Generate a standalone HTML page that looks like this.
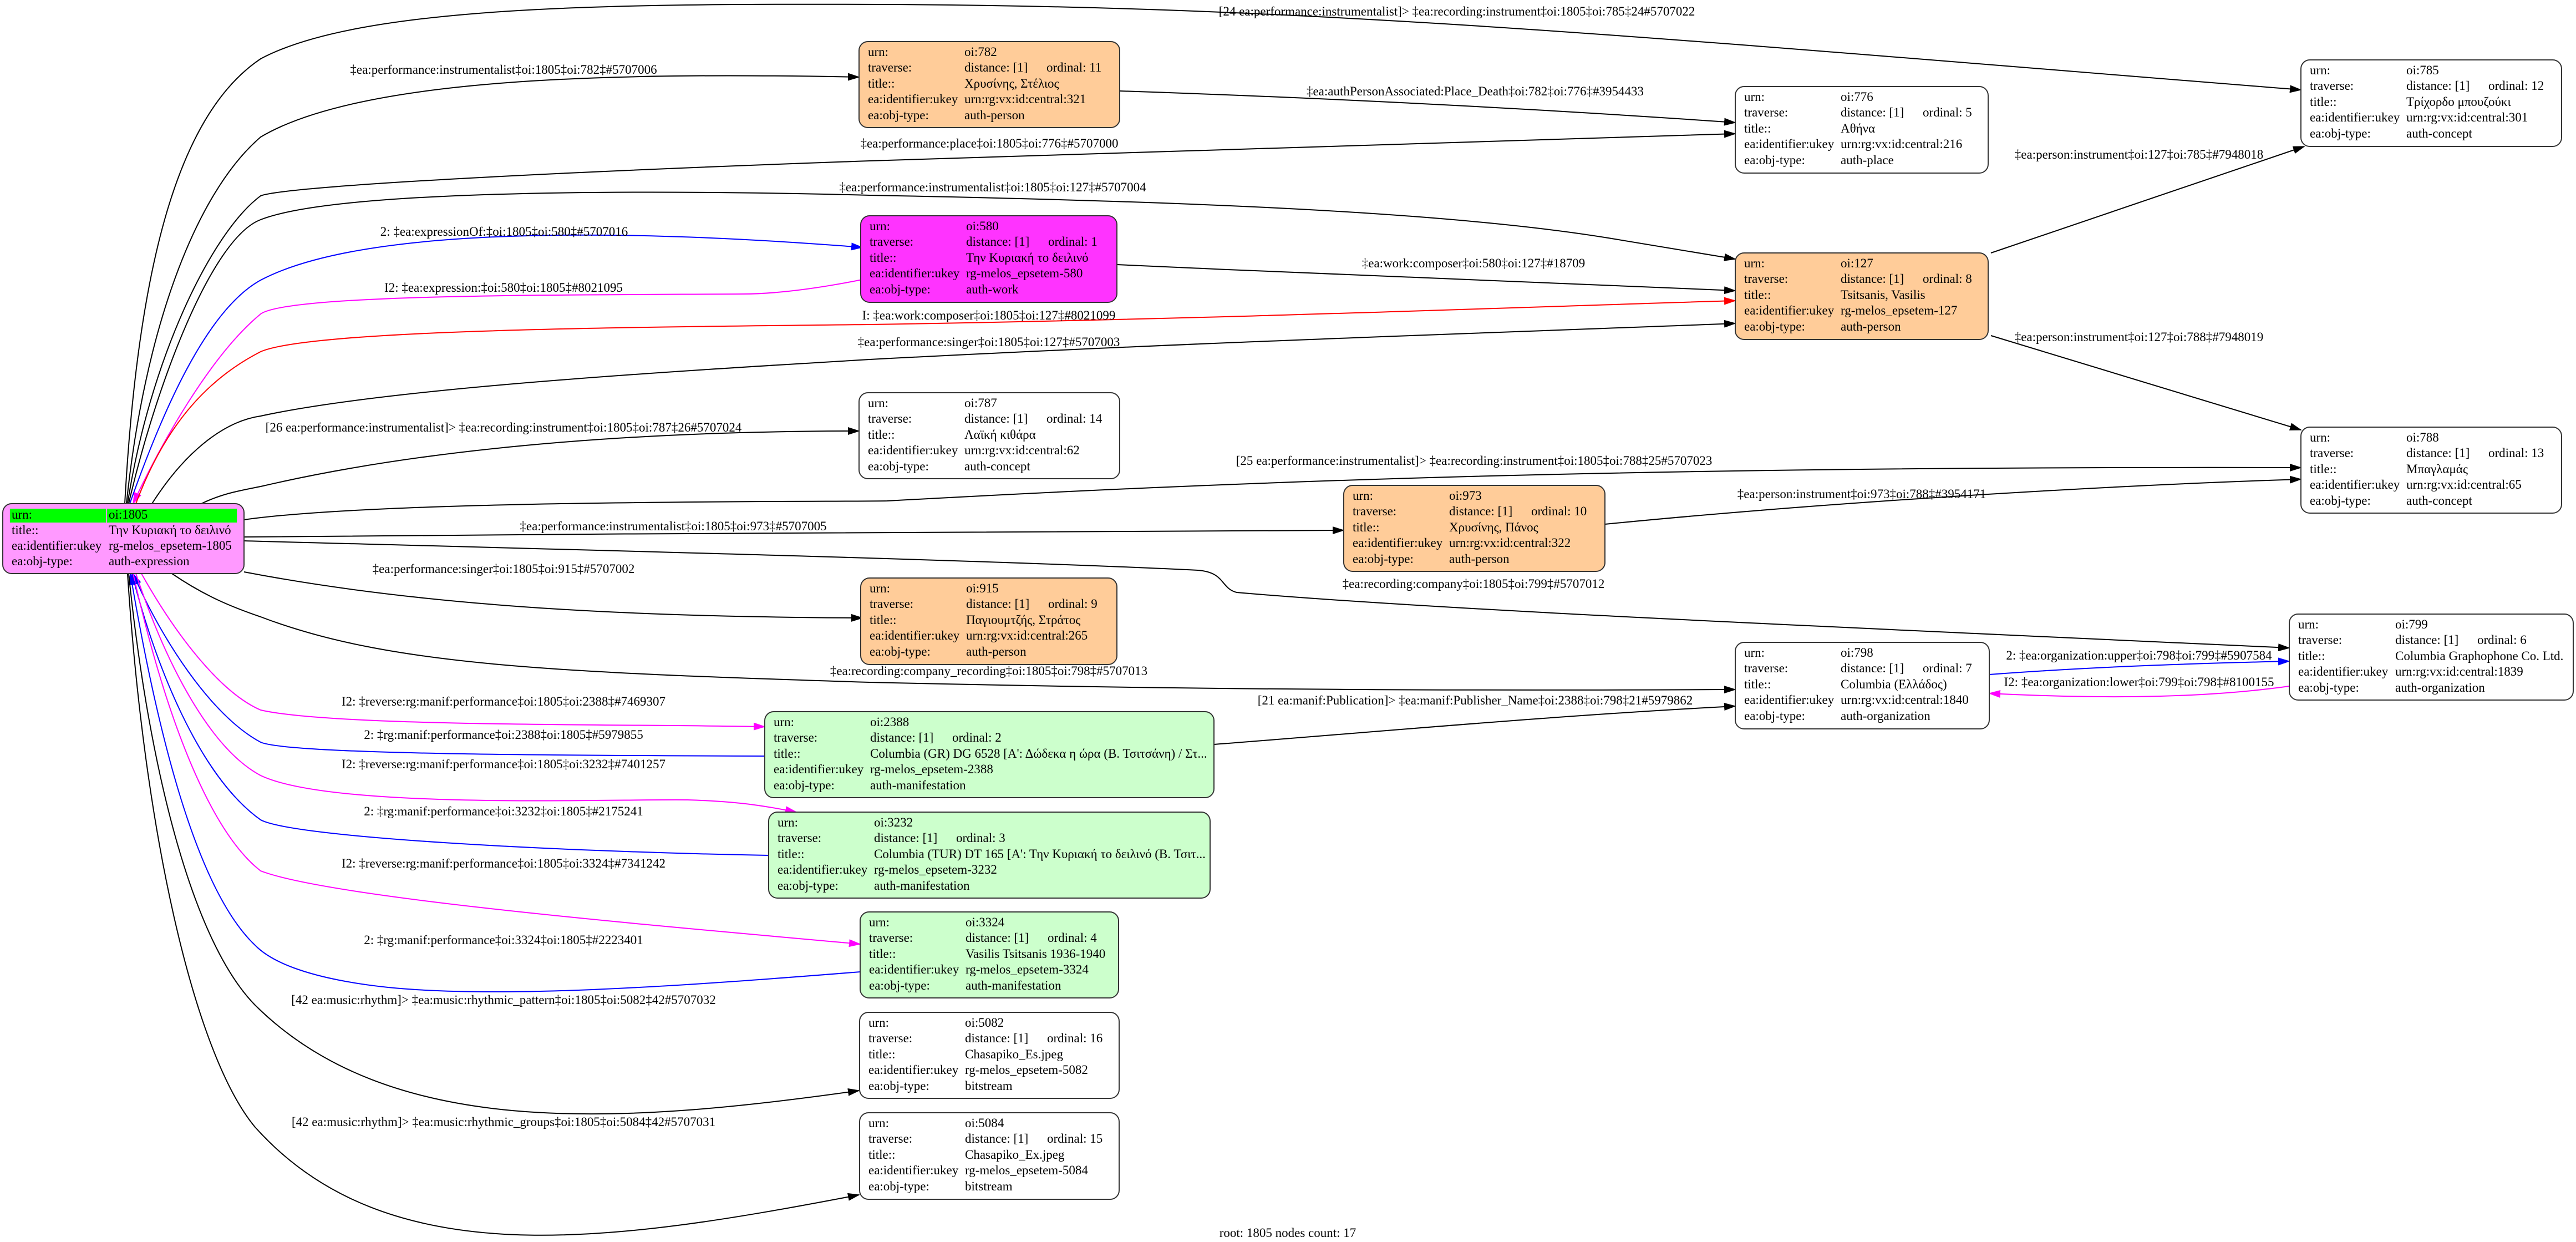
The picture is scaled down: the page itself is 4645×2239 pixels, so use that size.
<!DOCTYPE html>
<html><head><meta charset="utf-8"><style>
html,body{margin:0;padding:0;background:#fff;}
svg{display:block;}
text{font-family:"Liberation Serif","Noto Serif CJK SC",serif;font-size:23px;fill:#000;}
.e{fill:none;stroke-width:2;}
</style></head><body>
<svg width="4645" height="2239" viewBox="0 0 4645 2239" xmlns="http://www.w3.org/2000/svg">
<defs>
<marker id="ak" markerWidth="22" markerHeight="14" refX="20" refY="7" orient="auto" markerUnits="userSpaceOnUse"><path d="M0,0 L22,7 L0,14 z" fill="#000"/></marker>
<marker id="ab" markerWidth="22" markerHeight="14" refX="20" refY="7" orient="auto" markerUnits="userSpaceOnUse"><path d="M0,0 L22,7 L0,14 z" fill="#00f"/></marker>
<marker id="am" markerWidth="22" markerHeight="14" refX="20" refY="7" orient="auto" markerUnits="userSpaceOnUse"><path d="M0,0 L22,7 L0,14 z" fill="#f0f"/></marker>
<marker id="ar" markerWidth="22" markerHeight="14" refX="20" refY="7" orient="auto" markerUnits="userSpaceOnUse"><path d="M0,0 L22,7 L0,14 z" fill="#f00"/></marker>
</defs>

<g class="edges">
<path class="e" stroke="#000" marker-end="url(#ak)" d="M225,908 C250,450 330,200 470,106 C650,10 1100,6 1600,8 C2400,12 3000,70 4149,162"/>
<path class="e" stroke="#000" marker-end="url(#ak)" d="M228,908 C260,600 350,350 470,247 C650,140 1100,130 1549,139"/>
<path class="e" stroke="#000" marker-end="url(#ak)" d="M230,908 C270,650 380,420 470,353 C520,335 1000,310 1568,290 C2200,270 2800,250 3129,241"/>
<path class="e" stroke="#000" marker-end="url(#ak)" d="M232,908 C280,700 380,430 470,396 C600,345 1100,340 1568,352 C2100,362 2600,380 2900,429 L3129,467"/>
<path class="e" stroke="#00f" marker-end="url(#ab)" d="M234,908 C290,750 370,560 470,505 C650,410 1100,410 1555,446"/>
<path class="e" stroke="#f0f" marker-end="url(#am)" d="M1555,504 C1450,525 1380,530 1340,530 C1000,532 520,530 470,566 C380,640 290,800 240,908"/>
<path class="e" stroke="#f00" marker-end="url(#ar)" d="M245,908 C300,760 380,680 470,634 C560,595 1100,590 1568,585 C2200,575 2700,555 3129,542"/>
<path class="e" stroke="#000" marker-end="url(#ak)" d="M274,908 C330,820 400,760 470,750 C700,700 1200,670 1568,648 C2200,615 2700,600 3129,583"/>
<path class="e" stroke="#000" marker-end="url(#ak)" d="M363,908 C400,890 430,885 470,877 C800,800 1200,777 1549,777"/>
<path class="e" stroke="#000" marker-end="url(#ak)" d="M440,937 C700,900 1500,905 1600,903 C2200,870 2900,840 4149,843"/>
<path class="e" stroke="#000" marker-end="url(#ak)" d="M440,968 C1100,962 1800,958 2423,956"/>
<path class="e" stroke="#000" marker-end="url(#ak)" d="M440,975 C1000,990 1800,1010 2160,1028 C2210,1032 2200,1060 2230,1068 C2600,1100 3300,1130 4128,1168"/>
<path class="e" stroke="#000" marker-end="url(#ak)" d="M440,1031 C800,1100 1200,1112 1555,1114"/>
<path class="e" stroke="#000" marker-end="url(#ak)" d="M310,1034 C370,1075 420,1095 470,1112 C700,1200 1000,1212 1568,1230 C2200,1245 2700,1245 3129,1243"/>
<path class="e" stroke="#000" marker-end="url(#ak)" d="M2189,1342 C2500,1318 2800,1290 3129,1273"/>
<path class="e" stroke="#000" marker-end="url(#ak)" d="M2019,164 C2500,180 2900,205 3129,221"/>
<path class="e" stroke="#000" marker-end="url(#ak)" d="M2014,477 C2400,495 2800,510 3129,524"/>
<path class="e" stroke="#000" marker-end="url(#ak)" d="M3590,456 L4155,264"/>
<path class="e" stroke="#000" marker-end="url(#ak)" d="M3590,605 L4149,775"/>
<path class="e" stroke="#000" marker-end="url(#ak)" d="M2894,945 C3300,905 3800,875 4149,864"/>
<path class="e" stroke="#00f" marker-end="url(#ab)" d="M3587,1216 C3800,1200 4000,1195 4128,1192"/>
<path class="e" stroke="#f0f" marker-end="url(#am)" d="M4128,1237 C3950,1262 3750,1258 3587,1250"/>
<path class="e" stroke="#f0f" marker-end="url(#am)" d="M255,1034 C320,1150 400,1250 470,1280 C600,1310 1100,1305 1379,1310"/>
<path class="e" stroke="#00f" marker-end="url(#ab)" d="M1379,1363 C1000,1362 520,1360 470,1338 C380,1290 290,1150 240,1034"/>
<path class="e" stroke="#f0f" marker-end="url(#am)" d="M245,1034 C300,1200 380,1350 470,1398 C600,1460 1100,1440 1240,1442 C1340,1445 1390,1455 1436,1464"/>
<path class="e" stroke="#00f" marker-end="url(#ab)" d="M1386,1542 C1000,1535 530,1510 470,1478 C360,1400 280,1200 238,1034"/>
<path class="e" stroke="#f0f" marker-end="url(#am)" d="M240,1034 C300,1300 380,1500 470,1570 C600,1620 1200,1670 1551,1702"/>
<path class="e" stroke="#00f" marker-end="url(#ab)" d="M1551,1752 C1200,1780 900,1800 700,1780 C560,1765 490,1735 460,1704 C350,1600 280,1300 235,1034"/>
<path class="e" stroke="#000" marker-end="url(#ak)" d="M232,1034 C270,1400 350,1700 460,1812 C700,2050 1100,2030 1549,1966"/>
<path class="e" stroke="#000" marker-end="url(#ak)" d="M230,1034 C260,1500 350,1900 460,2032 C700,2300 1100,2240 1549,2154"/>
</g>

<g text-anchor="middle">
<text x="2627" y="28">[24 ea:performance:instrumentalist]&gt; ‡ea:recording:instrument‡oi:1805‡oi:785‡24#5707022</text>
<text x="908" y="133">‡ea:performance:instrumentalist‡oi:1805‡oi:782‡#5707006</text>
<text x="2660" y="172">‡ea:authPersonAssociated:Place_Death‡oi:782‡oi:776‡#3954433</text>
<text x="1784" y="266">‡ea:performance:place‡oi:1805‡oi:776‡#5707000</text>
<text x="1790" y="345">‡ea:performance:instrumentalist‡oi:1805‡oi:127‡#5707004</text>
<text x="909" y="425">2: ‡ea:expressionOf:‡oi:1805‡oi:580‡#5707016</text>
<text x="2657" y="482">‡ea:work:composer‡oi:580‡oi:127‡#18709</text>
<text x="908" y="526">I2: ‡ea:expression:‡oi:580‡oi:1805‡#8021095</text>
<text x="1783" y="576">I: ‡ea:work:composer‡oi:1805‡oi:127‡#8021099</text>
<text x="1783" y="624">‡ea:performance:singer‡oi:1805‡oi:127‡#5707003</text>
<text x="3857" y="286">‡ea:person:instrument‡oi:127‡oi:785‡#7948018</text>
<text x="3857" y="615">‡ea:person:instrument‡oi:127‡oi:788‡#7948019</text>
<text x="908" y="778">[26 ea:performance:instrumentalist]&gt; ‡ea:recording:instrument‡oi:1805‡oi:787‡26#5707024</text>
<text x="2658" y="838">[25 ea:performance:instrumentalist]&gt; ‡ea:recording:instrument‡oi:1805‡oi:788‡25#5707023</text>
<text x="3357" y="898">‡ea:person:instrument‡oi:973‡oi:788‡#3954171</text>
<text x="1214" y="956">‡ea:performance:instrumentalist‡oi:1805‡oi:973‡#5707005</text>
<text x="908" y="1033">‡ea:performance:singer‡oi:1805‡oi:915‡#5707002</text>
<text x="2657" y="1060">‡ea:recording:company‡oi:1805‡oi:799‡#5707012</text>
<text x="1783" y="1217">‡ea:recording:company_recording‡oi:1805‡oi:798‡#5707013</text>
<text x="2660" y="1270">[21 ea:manif:Publication]&gt; ‡ea:manif:Publisher_Name‡oi:2388‡oi:798‡21#5979862</text>
<text x="3857" y="1189">2: ‡ea:organization:upper‡oi:798‡oi:799‡#5907584</text>
<text x="3857" y="1237">I2: ‡ea:organization:lower‡oi:799‡oi:798‡#8100155</text>
<text x="908" y="1272">I2: ‡reverse:rg:manif:performance‡oi:1805‡oi:2388‡#7469307</text>
<text x="908" y="1332">2: ‡rg:manif:performance‡oi:2388‡oi:1805‡#5979855</text>
<text x="908" y="1385">I2: ‡reverse:rg:manif:performance‡oi:1805‡oi:3232‡#7401257</text>
<text x="908" y="1470">2: ‡rg:manif:performance‡oi:3232‡oi:1805‡#2175241</text>
<text x="908" y="1564">I2: ‡reverse:rg:manif:performance‡oi:1805‡oi:3324‡#7341242</text>
<text x="908" y="1702">2: ‡rg:manif:performance‡oi:3324‡oi:1805‡#2223401</text>
<text x="908" y="1810">[42 ea:music:rhythm]&gt; ‡ea:music:rhythmic_pattern‡oi:1805‡oi:5082‡42#5707032</text>
<text x="908" y="2030">[42 ea:music:rhythm]&gt; ‡ea:music:rhythmic_groups‡oi:1805‡oi:5084‡42#5707031</text>
<text x="2322" y="2230">root: 1805 nodes count: 17</text>
</g>

<g transform="translate(5,908)">
<rect x="0" y="0" width="435" height="126" rx="16" fill="#ff99ff" stroke="#333" stroke-width="2"/>
<rect x="13" y="9" width="173" height="25" fill="#00ff00"/>
<rect x="188" y="9" width="234" height="25" fill="#00ff00"/>
<text x="16" y="27">urn:</text><text x="191" y="27">oi:1805</text>
<text x="16" y="55">title::</text><text x="191" y="55">Την Κυριακή το δειλινό</text>
<text x="16" y="83">ea:identifier:ukey</text><text x="191" y="83">rg-melos_epsetem-1805</text>
<text x="16" y="111">ea:obj-type:</text><text x="191" y="111">auth-expression</text>
</g>

<g transform="translate(1549,75)">
<rect width="470" height="155" rx="16" fill="#ffcc99" stroke="#333" stroke-width="2"/>
<text x="16" y="26">urn:</text><text x="190" y="26">oi:782</text>
<text x="16" y="54">traverse:</text><text x="190" y="54">distance: [1]</text><text x="338" y="54">ordinal: 11</text>
<text x="16" y="83">title::</text><text x="190" y="83">Χρυσίνης, Στέλιος</text>
<text x="16" y="111">ea:identifier:ukey</text><text x="190" y="111">urn:rg:vx:id:central:321</text>
<text x="16" y="140">ea:obj-type:</text><text x="190" y="140">auth-person</text>
</g>
<g transform="translate(3129,156)">
<rect width="456" height="156" rx="16" fill="#fff" stroke="#333" stroke-width="2"/>
<text x="16" y="26">urn:</text><text x="190" y="26">oi:776</text>
<text x="16" y="54">traverse:</text><text x="190" y="54">distance: [1]</text><text x="338" y="54">ordinal: 5</text>
<text x="16" y="83">title::</text><text x="190" y="83">Αθήνα</text>
<text x="16" y="111">ea:identifier:ukey</text><text x="190" y="111">urn:rg:vx:id:central:216</text>
<text x="16" y="140">ea:obj-type:</text><text x="190" y="140">auth-place</text>
</g>
<g transform="translate(4149,108)">
<rect width="470" height="156" rx="16" fill="#fff" stroke="#333" stroke-width="2"/>
<text x="16" y="26">urn:</text><text x="190" y="26">oi:785</text>
<text x="16" y="54">traverse:</text><text x="190" y="54">distance: [1]</text><text x="338" y="54">ordinal: 12</text>
<text x="16" y="83">title::</text><text x="190" y="83">Τρίχορδο μπουζούκι</text>
<text x="16" y="111">ea:identifier:ukey</text><text x="190" y="111">urn:rg:vx:id:central:301</text>
<text x="16" y="140">ea:obj-type:</text><text x="190" y="140">auth-concept</text>
</g>
<g transform="translate(1552,389)">
<rect width="462" height="156" rx="16" fill="#ff33ff" stroke="#333" stroke-width="2"/>
<text x="16" y="26">urn:</text><text x="190" y="26">oi:580</text>
<text x="16" y="54">traverse:</text><text x="190" y="54">distance: [1]</text><text x="338" y="54">ordinal: 1</text>
<text x="16" y="83">title::</text><text x="190" y="83">Την Κυριακή το δειλινό</text>
<text x="16" y="111">ea:identifier:ukey</text><text x="190" y="111">rg-melos_epsetem-580</text>
<text x="16" y="140">ea:obj-type:</text><text x="190" y="140">auth-work</text>
</g>
<g transform="translate(3129,456)">
<rect width="456" height="156" rx="16" fill="#ffcc99" stroke="#333" stroke-width="2"/>
<text x="16" y="26">urn:</text><text x="190" y="26">oi:127</text>
<text x="16" y="54">traverse:</text><text x="190" y="54">distance: [1]</text><text x="338" y="54">ordinal: 8</text>
<text x="16" y="83">title::</text><text x="190" y="83">Tsitsanis, Vasilis</text>
<text x="16" y="111">ea:identifier:ukey</text><text x="190" y="111">rg-melos_epsetem-127</text>
<text x="16" y="140">ea:obj-type:</text><text x="190" y="140">auth-person</text>
</g>
<g transform="translate(1549,708)">
<rect width="470" height="155" rx="16" fill="#fff" stroke="#333" stroke-width="2"/>
<text x="16" y="26">urn:</text><text x="190" y="26">oi:787</text>
<text x="16" y="54">traverse:</text><text x="190" y="54">distance: [1]</text><text x="338" y="54">ordinal: 14</text>
<text x="16" y="83">title::</text><text x="190" y="83">Λαϊκή κιθάρα</text>
<text x="16" y="111">ea:identifier:ukey</text><text x="190" y="111">urn:rg:vx:id:central:62</text>
<text x="16" y="140">ea:obj-type:</text><text x="190" y="140">auth-concept</text>
</g>
<g transform="translate(4149,770)">
<rect width="470" height="155" rx="16" fill="#fff" stroke="#333" stroke-width="2"/>
<text x="16" y="26">urn:</text><text x="190" y="26">oi:788</text>
<text x="16" y="54">traverse:</text><text x="190" y="54">distance: [1]</text><text x="338" y="54">ordinal: 13</text>
<text x="16" y="83">title::</text><text x="190" y="83">Μπαγλαμάς</text>
<text x="16" y="111">ea:identifier:ukey</text><text x="190" y="111">urn:rg:vx:id:central:65</text>
<text x="16" y="140">ea:obj-type:</text><text x="190" y="140">auth-concept</text>
</g>
<g transform="translate(2423,875)">
<rect width="471" height="155" rx="16" fill="#ffcc99" stroke="#333" stroke-width="2"/>
<text x="16" y="26">urn:</text><text x="190" y="26">oi:973</text>
<text x="16" y="54">traverse:</text><text x="190" y="54">distance: [1]</text><text x="338" y="54">ordinal: 10</text>
<text x="16" y="83">title::</text><text x="190" y="83">Χρυσίνης, Πάνος</text>
<text x="16" y="111">ea:identifier:ukey</text><text x="190" y="111">urn:rg:vx:id:central:322</text>
<text x="16" y="140">ea:obj-type:</text><text x="190" y="140">auth-person</text>
</g>
<g transform="translate(1552,1042)">
<rect width="462" height="156" rx="16" fill="#ffcc99" stroke="#333" stroke-width="2"/>
<text x="16" y="26">urn:</text><text x="190" y="26">oi:915</text>
<text x="16" y="54">traverse:</text><text x="190" y="54">distance: [1]</text><text x="338" y="54">ordinal: 9</text>
<text x="16" y="83">title::</text><text x="190" y="83">Παγιουμτζής, Στράτος</text>
<text x="16" y="111">ea:identifier:ukey</text><text x="190" y="111">urn:rg:vx:id:central:265</text>
<text x="16" y="140">ea:obj-type:</text><text x="190" y="140">auth-person</text>
</g>
<g transform="translate(3129,1158)">
<rect width="458" height="156" rx="16" fill="#fff" stroke="#333" stroke-width="2"/>
<text x="16" y="26">urn:</text><text x="190" y="26">oi:798</text>
<text x="16" y="54">traverse:</text><text x="190" y="54">distance: [1]</text><text x="338" y="54">ordinal: 7</text>
<text x="16" y="83">title::</text><text x="190" y="83">Columbia (Ελλάδος)</text>
<text x="16" y="111">ea:identifier:ukey</text><text x="190" y="111">urn:rg:vx:id:central:1840</text>
<text x="16" y="140">ea:obj-type:</text><text x="190" y="140">auth-organization</text>
</g>
<g transform="translate(4128,1107)">
<rect width="512" height="155" rx="16" fill="#fff" stroke="#333" stroke-width="2"/>
<text x="16" y="26">urn:</text><text x="191" y="26">oi:799</text>
<text x="16" y="54">traverse:</text><text x="191" y="54">distance: [1]</text><text x="339" y="54">ordinal: 6</text>
<text x="16" y="83">title::</text><text x="191" y="83">Columbia Graphophone Co. Ltd.</text>
<text x="16" y="111">ea:identifier:ukey</text><text x="191" y="111">urn:rg:vx:id:central:1839</text>
<text x="16" y="140">ea:obj-type:</text><text x="191" y="140">auth-organization</text>
</g>
<g transform="translate(1379,1283)">
<rect width="810" height="155" rx="16" fill="#ccffcc" stroke="#333" stroke-width="2"/>
<text x="16" y="26">urn:</text><text x="190" y="26">oi:2388</text>
<text x="16" y="54">traverse:</text><text x="190" y="54">distance: [1]</text><text x="338" y="54">ordinal: 2</text>
<text x="16" y="83">title::</text><text x="190" y="83">Columbia (GR) DG 6528 [Α': Δώδεκα η ώρα (Β. Τσιτσάνη) / Στ...</text>
<text x="16" y="111">ea:identifier:ukey</text><text x="190" y="111">rg-melos_epsetem-2388</text>
<text x="16" y="140">ea:obj-type:</text><text x="190" y="140">auth-manifestation</text>
</g>
<g transform="translate(1386,1464)">
<rect width="796" height="155" rx="16" fill="#ccffcc" stroke="#333" stroke-width="2"/>
<text x="16" y="26">urn:</text><text x="190" y="26">oi:3232</text>
<text x="16" y="54">traverse:</text><text x="190" y="54">distance: [1]</text><text x="338" y="54">ordinal: 3</text>
<text x="16" y="83">title::</text><text x="190" y="83">Columbia (TUR) DT 165 [Α': Την Κυριακή το δειλινό (Β. Τσιτ...</text>
<text x="16" y="111">ea:identifier:ukey</text><text x="190" y="111">rg-melos_epsetem-3232</text>
<text x="16" y="140">ea:obj-type:</text><text x="190" y="140">auth-manifestation</text>
</g>
<g transform="translate(1551,1644)">
<rect width="466" height="155" rx="16" fill="#ccffcc" stroke="#333" stroke-width="2"/>
<text x="16" y="26">urn:</text><text x="190" y="26">oi:3324</text>
<text x="16" y="54">traverse:</text><text x="190" y="54">distance: [1]</text><text x="338" y="54">ordinal: 4</text>
<text x="16" y="83">title::</text><text x="190" y="83">Vasilis Tsitsanis 1936-1940</text>
<text x="16" y="111">ea:identifier:ukey</text><text x="190" y="111">rg-melos_epsetem-3324</text>
<text x="16" y="140">ea:obj-type:</text><text x="190" y="140">auth-manifestation</text>
</g>
<g transform="translate(1550,1825)">
<rect width="468" height="155" rx="16" fill="#fff" stroke="#333" stroke-width="2"/>
<text x="16" y="26">urn:</text><text x="190" y="26">oi:5082</text>
<text x="16" y="54">traverse:</text><text x="190" y="54">distance: [1]</text><text x="338" y="54">ordinal: 16</text>
<text x="16" y="83">title::</text><text x="190" y="83">Chasapiko_Es.jpeg</text>
<text x="16" y="111">ea:identifier:ukey</text><text x="190" y="111">rg-melos_epsetem-5082</text>
<text x="16" y="140">ea:obj-type:</text><text x="190" y="140">bitstream</text>
</g>
<g transform="translate(1550,2006)">
<rect width="468" height="156" rx="16" fill="#fff" stroke="#333" stroke-width="2"/>
<text x="16" y="26">urn:</text><text x="190" y="26">oi:5084</text>
<text x="16" y="54">traverse:</text><text x="190" y="54">distance: [1]</text><text x="338" y="54">ordinal: 15</text>
<text x="16" y="83">title::</text><text x="190" y="83">Chasapiko_Ex.jpeg</text>
<text x="16" y="111">ea:identifier:ukey</text><text x="190" y="111">rg-melos_epsetem-5084</text>
<text x="16" y="140">ea:obj-type:</text><text x="190" y="140">bitstream</text>
</g>
</svg>
</body></html>
